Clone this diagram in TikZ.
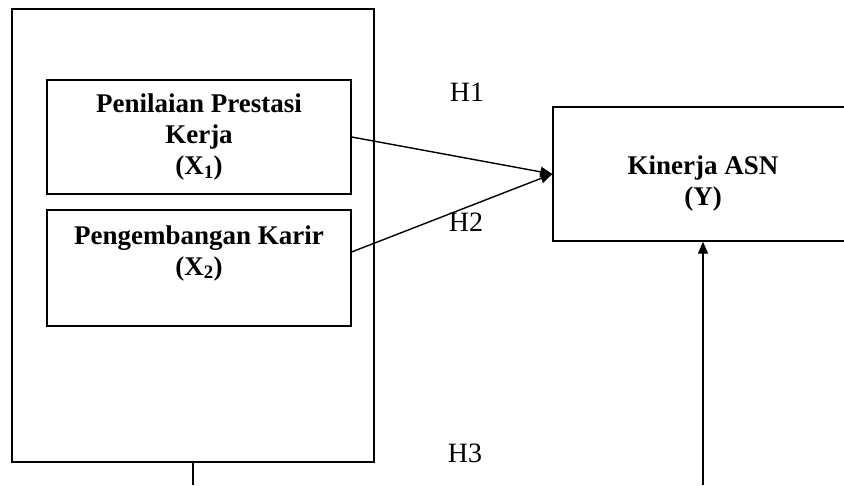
\documentclass[tikz,border=0pt]{standalone}
\usepackage{fontspec}
\setmainfont{Liberation Serif}
\usetikzlibrary{arrows.meta}

\begin{document}
\begin{tikzpicture}[x=1pt, y=-1pt, >={Triangle[length=12pt,width=10pt]},
    box/.style={draw, line width=1.4pt, align=center, inner sep=0pt,
        font=\bfseries\fontsize{27}{31}\selectfont},
    hyp/.style={font=\fontsize{28}{31}\selectfont}]
    \useasboundingbox (0,0) rectangle (844,485);
    \clip (0,0) rectangle (844,485);

    % Outer frame round the two independent variables
    \node[draw, line width=1.4pt, minimum width=362pt, minimum height=453pt] (frame) at (193,235.5) {};

    % Variable boxes
    \node[box, minimum width=304pt, minimum height=114pt] (X1) at (199,137)
        {Penilaian Prestasi\\Kerja\\(X\textsubscript{1})};
    \node[box, minimum width=304pt, minimum height=116pt, text height=40pt, text depth=26pt] (X2) at (199,268)
        {Pengembangan Karir\\(X\textsubscript{2})};
    \node[box, minimum width=300pt, minimum height=134pt, text height=74pt, text depth=12pt] (Y) at (703,174)
        {Kinerja ASN\\(Y)};

    % Free ends at the lower edge
    \coordinate (fb) at (193,485);
    \coordinate (yb) at (703,485);

    % Hypothesis labels
    \node[hyp] (h1) at (467,92) {H1};
    \node[hyp] (h2) at (466,222) {H2};
    \node[hyp] (h3) at (465,453) {H3};

    % Connectors
    \draw[line width=1.4pt, ->] (X1.east) -- (Y.west);
    \draw[line width=1.4pt, ->] (X2.6) -- (Y.west);
    \draw[line width=1.4pt] (frame.south) -- (fb);
    \draw[line width=1.4pt, ->] (yb) -- (Y.south);
\end{tikzpicture}
\end{document}
